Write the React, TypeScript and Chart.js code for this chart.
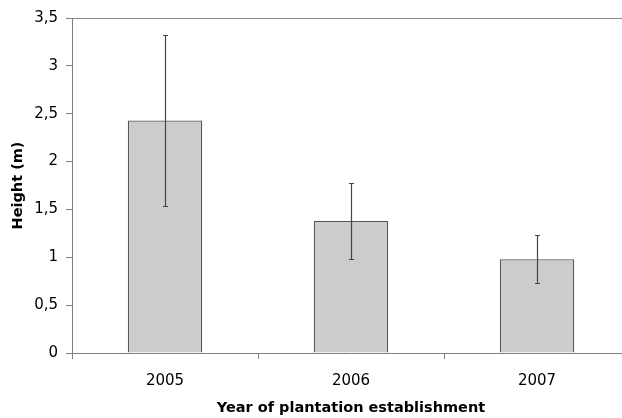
import React, { useEffect, useRef } from "react";
import { Chart, registerables } from "chart.js";

Chart.register(...registerables);

const categories = ["2005", "2006", "2007"];
const heights = [2.43, 1.38, 0.98];
const errors = [0.89, 0.4, 0.25];
const yTicks = [0, 0.5, 1, 1.5, 2, 2.5, 3, 3.5];

const errorBarPlugin = {
  id: "errorBars",
  afterDatasetsDraw(chart: any) {
    const ctx = chart.ctx;
    const meta = chart.getDatasetMeta(0);
    const yScale = chart.scales.y;
    ctx.save();
    ctx.strokeStyle = "#444444";
    ctx.lineWidth = 1.2;
    meta.data.forEach((bar: any, i: number) => {
      const v = heights[i];
      const e = errors[i];
      const x = Math.round(bar.x) + 0.5;
      const yTop = Math.round(yScale.getPixelForValue(v + e)) + 0.5;
      const yBot = Math.round(yScale.getPixelForValue(v - e)) + 0.5;
      ctx.beginPath();
      ctx.moveTo(x, yTop);
      ctx.lineTo(x, yBot);
      ctx.moveTo(x - 2.5, yTop);
      ctx.lineTo(x + 2.5, yTop);
      ctx.moveTo(x - 2.5, yBot);
      ctx.lineTo(x + 2.5, yBot);
      ctx.stroke();
    });
    ctx.restore();
  },
};

export default function App() {
  const ref = useRef<HTMLCanvasElement | null>(null);
  useEffect(() => {
    if (!ref.current) return;
    const font = { family: "'DejaVu Sans', Verdana, sans-serif", size: 15 };
    const titleFont = { family: "'DejaVu Sans', Verdana, sans-serif", size: 14.5, weight: "bold" as const };
    const chart = new Chart(ref.current, {
      type: "bar",
      data: {
        labels: categories,
        datasets: [
          {
            data: heights,
            backgroundColor: "#cccccc",
            borderColor: "#555555",
            borderWidth: 1.3,
            barPercentage: 0.4,
            categoryPercentage: 1,
          },
        ],
      },
      options: {
        responsive: false,
        animation: false,
        layout: { padding: { top: 18, right: 10, left: 0, bottom: 0 } },
        plugins: { legend: { display: false }, tooltip: { enabled: false } },
        scales: {
          x: {
            grid: {
              display: true,
              drawOnChartArea: false,
              offset: true,
              tickLength: 6,
              tickColor: "#808080",
            },
            border: { color: "#808080" },
            ticks: { color: "#000", font, padding: 13 },
            title: {
              display: true,
              text: "Year of plantation establishment",
              color: "#000",
              font: titleFont,
              padding: { top: 0, bottom: 1 },
            },
            afterFit(scale: any) {
              scale.height = 65;
            },
          },
          y: {
            min: 0,
            max: 3.5,
            afterBuildTicks(scale: any) {
              scale.ticks = yTicks.map((v) => ({ value: v }));
            },
            grid: {
              color: (c: any) => (c.tick && c.tick.value === 3.5 ? "#888888" : "rgba(0,0,0,0)"),
              tickLength: 6,
              tickColor: "#808080",
            },
            border: { color: "#808080" },
            ticks: {
              color: "#000",
              font,
              padding: 8,
              callback: (v: any) => String(v).replace(".", ","),
            },
            title: {
              display: true,
              text: "Height (m)",
              color: "#000",
              font: titleFont,
              padding: { top: 10, bottom: 0 },
            },
            afterFit(scale: any) {
              scale.width = 72;
            },
          },
        },
      },
      plugins: [errorBarPlugin],
    });
    return () => chart.destroy();
  }, []);
  return (
    <div style={{ position: "fixed", left: 0, top: 0, width: 640, height: 418, overflow: "hidden", background: "#fff" }}>
      <canvas ref={ref} width={640} height={418} style={{ display: "block" }} />
    </div>
  );
}
